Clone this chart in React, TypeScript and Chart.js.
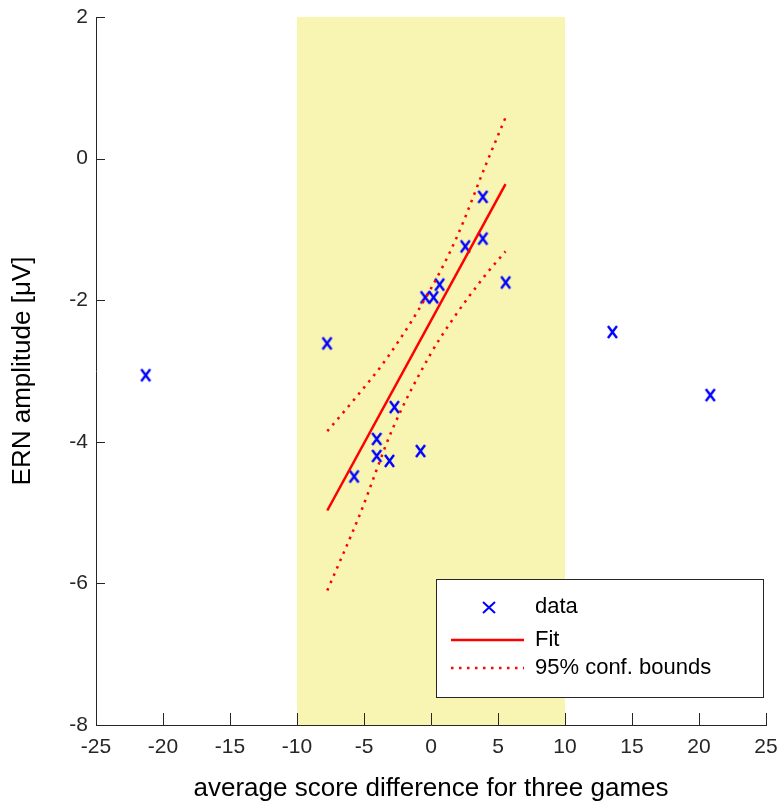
import React, { useEffect, useRef } from 'react';
import { Chart, registerables } from 'chart.js';

Chart.register(...registerables);

// ---- data ----
const X_TICKS = [-25, -20, -15, -10, -5, 0, 5, 10, 15, 20, 25];
const Y_TICKS = [-8, -6, -4, -2, 0, 2];
const BAND_X = [-10, 10];

const DATA_X = [-21.29, -7.76, -5.74, -4.05, -4.05, -3.1, -2.73, -0.78, -0.43, 0.19, 0.64, 2.56, 3.87, 3.87, 5.57, 13.54, 20.84];
const DATA_Y = [-3.06, -2.61, -4.49, -3.96, -4.2, -4.27, -3.51, -4.13, -1.96, -1.96, -1.78, -1.24, -0.54, -1.13, -1.75, -2.45, -3.34];

const FIT_X = [-7.74, 5.56];
const FIT_Y = [-4.97, -0.36];

const UPPER_X = [-7.74, -5.72, -3.18, 0.01, 1.88, 4.13, 5.56];
const UPPER_Y = [-3.85, -3.4, -2.79, -1.83, -1.13, -0.07, 0.58];

const LOWER_X = [-7.74, -5.34, -2.85, -0.06, 1.51, 4.0, 5.56];
const LOWER_Y = [-6.1, -5.04, -3.81, -2.77, -2.3, -1.66, -1.31];

const LABELS = ['data', 'Fit', '95% conf. bounds'];

const FONT = "'Liberation Sans', Arial, Helvetica, sans-serif";
const AXIS_COLOR = '#262626';
const BAND_COLOR = '#F7F5B1';
const BLUE = '#0000FF';
const RED = '#FF0000';

function makeCross(w: number, h: number, lw: number): HTMLCanvasElement {
  const c = document.createElement('canvas');
  c.width = w + 4;
  c.height = h + 4;
  const g = c.getContext('2d')!;
  g.strokeStyle = BLUE;
  g.lineWidth = lw;
  g.beginPath();
  g.moveTo(2, 2);
  g.lineTo(w + 2, h + 2);
  g.moveTo(w + 2, 2);
  g.lineTo(2, h + 2);
  g.stroke();
  return c;
}

const zip = (xs: number[], ys: number[]) => xs.map((x, i) => ({ x, y: ys[i] }));

export default function App() {
  const ref = useRef<HTMLCanvasElement | null>(null);

  useEffect(() => {
    if (!ref.current) return;
    const marker = makeCross(9, 12, 2.4);

    const bandPlugin = {
      id: 'band',
      beforeDraw(chart: any) {
        const { ctx, chartArea, scales } = chart;
        const x0 = scales.x.getPixelForValue(BAND_X[0]);
        const x1 = scales.x.getPixelForValue(BAND_X[1]);
        ctx.save();
        ctx.fillStyle = BAND_COLOR;
        ctx.fillRect(x0, chartArea.top, x1 - x0, chartArea.bottom - chartArea.top);
        ctx.restore();
      },
    };

    const ticksPlugin = {
      id: 'inticks',
      afterDatasetsDraw(chart: any) {
        const { ctx, chartArea, scales } = chart;
        ctx.save();
        ctx.strokeStyle = AXIS_COLOR;
        ctx.lineWidth = 1;
        ctx.beginPath();
        X_TICKS.forEach((v) => {
          const px = Math.round(scales.x.getPixelForValue(v)) + 0.5;
          ctx.moveTo(px, chartArea.bottom);
          ctx.lineTo(px, chartArea.bottom - 12);
        });
        Y_TICKS.forEach((v) => {
          const py = Math.round(scales.y.getPixelForValue(v)) + 0.5;
          ctx.moveTo(chartArea.left, py);
          ctx.lineTo(chartArea.left + 9, py);
        });
        ctx.stroke();
        ctx.restore();
      },
    };

    const legendPlugin = {
      id: 'boxlegend',
      afterDraw(chart: any) {
        const { ctx } = chart;
        const bx = 436.5, by = 579.5, bw = 327, bh = 118;
        ctx.save();
        ctx.fillStyle = '#FFFFFF';
        ctx.fillRect(bx, by, bw, bh);
        ctx.strokeStyle = AXIS_COLOR;
        ctx.lineWidth = 1;
        ctx.strokeRect(bx, by, bw, bh);

        // marker
        ctx.strokeStyle = BLUE;
        ctx.lineWidth = 2;
        ctx.beginPath();
        ctx.moveTo(483, 602);
        ctx.lineTo(495, 613);
        ctx.moveTo(495, 602);
        ctx.lineTo(483, 613);
        ctx.stroke();

        // fit line
        ctx.strokeStyle = RED;
        ctx.lineWidth = 2.5;
        ctx.beginPath();
        ctx.moveTo(451, 640);
        ctx.lineTo(524, 640);
        ctx.stroke();

        // dotted
        ctx.setLineDash([2.5, 5.5]);
        ctx.beginPath();
        ctx.moveTo(451, 668);
        ctx.lineTo(524, 668);
        ctx.stroke();
        ctx.setLineDash([]);

        ctx.fillStyle = '#000000';
        ctx.font = `22px ${FONT}`;
        ctx.textBaseline = 'middle';
        ctx.textAlign = 'left';
        ctx.fillText(LABELS[0], 535, 607);
        ctx.fillText(LABELS[1], 535, 640);
        ctx.fillText(LABELS[2], 535, 668);
        ctx.restore();
      },
    };

    const chart = new Chart(ref.current, {
      type: 'scatter',
      data: {
        datasets: [
          {
            label: LABELS[1],
            type: 'line',
            data: zip(FIT_X, FIT_Y),
            borderColor: RED,
            borderWidth: 2.5,
            pointRadius: 0,
            fill: false,
            tension: 0,
          },
          {
            label: LABELS[2],
            type: 'line',
            data: zip(UPPER_X, UPPER_Y),
            borderColor: RED,
            borderWidth: 2.5,
            borderDash: [2.5, 5.5],
            pointRadius: 0,
            fill: false,
            cubicInterpolationMode: 'monotone',
          },
          {
            label: LABELS[2] + ' (lower)',
            type: 'line',
            data: zip(LOWER_X, LOWER_Y),
            borderColor: RED,
            borderWidth: 2.5,
            borderDash: [2.5, 5.5],
            pointRadius: 0,
            fill: false,
            cubicInterpolationMode: 'monotone',
          },
          {
            label: LABELS[0],
            data: zip(DATA_X, DATA_Y),
            pointStyle: marker as any,
            pointRadius: 6,
            showLine: false,
          },
        ],
      } as any,
      options: {
        responsive: false,
        animation: false,
        events: [],
        layout: { padding: { top: 17, right: 14, left: 0, bottom: 0 } },
        plugins: {
          legend: { display: false },
          tooltip: { enabled: false },
        },
        scales: {
          x: {
            type: 'linear',
            min: -25,
            max: 25,
            afterBuildTicks: (s: any) => {
              s.ticks = X_TICKS.map((v) => ({ value: v }));
            },
            afterFit: (s: any) => {
              s.height = 80;
              s.paddingLeft = 0;
              s.paddingRight = 0;
            },
            grid: { display: false, drawTicks: false },
            border: { display: true, color: AXIS_COLOR, width: 1 },
            ticks: {
              color: AXIS_COLOR,
              font: { family: FONT, size: 21 },
              padding: 10,
              maxRotation: 0,
              autoSkip: false,
            },
            title: {
              display: true,
              text: 'average score difference for three games',
              color: '#000000',
              font: { family: FONT, size: 26, lineHeight: 1 },
              padding: { top: 0, bottom: 3 },
            },
          },
          y: {
            type: 'linear',
            min: -8,
            max: 2,
            afterBuildTicks: (s: any) => {
              s.ticks = Y_TICKS.map((v) => ({ value: v }));
            },
            afterFit: (s: any) => {
              s.width = 96;
              s.paddingTop = 0;
              s.paddingBottom = 0;
            },
            grid: { display: false, drawTicks: false },
            border: { display: true, color: AXIS_COLOR, width: 1 },
            ticks: {
              color: AXIS_COLOR,
              font: { family: FONT, size: 21 },
              padding: 8,
              autoSkip: false,
            },
            title: {
              display: true,
              text: 'ERN amplitude [μV]',
              color: '#000000',
              font: { family: FONT, size: 26, lineHeight: 1 },
              padding: { top: 10, bottom: 0 },
            },
          },
        },
      } as any,
      plugins: [bandPlugin, ticksPlugin, legendPlugin],
    });

    return () => chart.destroy();
  }, []);

  return (
    <div style={{ position: 'absolute', left: 0, top: 0, width: 780, height: 805, background: '#FFFFFF' }}>
      <canvas ref={ref} width={780} height={805} style={{ display: 'block' }} />
    </div>
  );
}
